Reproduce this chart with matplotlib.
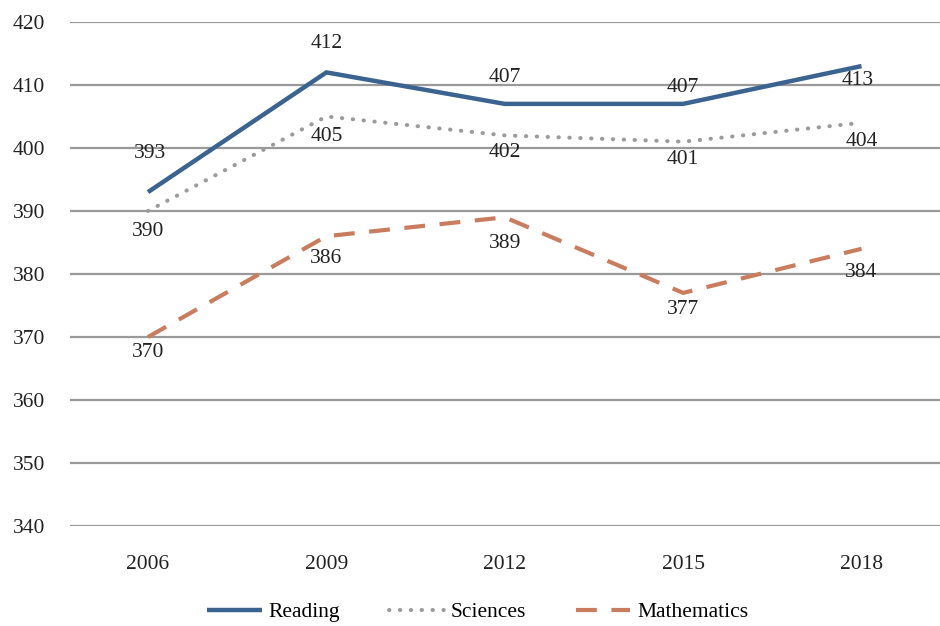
import matplotlib
matplotlib.use("Agg")
from matplotlib import pyplot as plt

years = ["2006", "2009", "2012", "2015", "2018"]
reading = [393, 412, 407, 407, 413]
sciences = [390, 405, 402, 401, 404]
mathematics = [370, 386, 389, 377, 384]

# label offsets in pixels (dx, dy) for each point
reading_offsets = [(2, 39), (0, 29), (0, 26), (0, 16), (-4, -14)]
sciences_offsets = [(0, -21), (0, -20), (0, -17), (0, -18), (0, -19)]
math_offsets = [(0, -15), (0, -22), (0, -26), (0, -17), (0, -24)]

plt.rcParams['font.family'] = ['Liberation Serif', 'DejaVu Serif']
fs = 15.5

fig = plt.figure(figsize=(9.4, 6.26), dpi=100)
ax = fig.add_axes([0.0745, 0.1597, 0.9255, 0.8052])

x = list(range(len(years)))
ax.plot(x, reading, '-', color='#3a6390', lw=3.2, label="Reading",
        solid_capstyle='butt', zorder=3)
ax.plot(x, sciences, color='#9b9b9d', lw=2.9, label="Sciences",
        linestyle=(0, (0.1, 2.6)), dash_capstyle='round', zorder=3)
ax.plot(x, mathematics, color='#c97d5e', lw=3.0, label="Mathematics",
        linestyle=(0, (5, 3.5)), dash_capstyle='butt', zorder=3)

for values, offsets in [(reading, reading_offsets),
                        (sciences, sciences_offsets),
                        (mathematics, math_offsets)]:
    for i, v in enumerate(values):
        ax.annotate(str(v), (i, v), xytext=offsets[i],
                    textcoords='offset pixels', ha='center', va='center',
                    fontsize=fs, color='#222222')

ax.set_xlim(-0.437, 4.44)
ax.set_ylim(340, 420)
ax.set_yticks(range(340, 421, 10))
ax.set_xticks(x)
ax.set_xticklabels(years)
ax.grid(axis='y', color='#999999', lw=1.6)
ax.set_axisbelow(True)
for side in ['top', 'right', 'left', 'bottom']:
    ax.spines[side].set_visible(False)
ax.tick_params(axis='both', length=0, labelsize=fs, colors='#222222')
ax.tick_params(axis='y', pad=18)
ax.tick_params(axis='x', pad=21)

fig.legend(loc='center', bbox_to_anchor=(0.508, 0.022), ncol=3,
           frameon=False, fontsize=fs, handlelength=2.55, handletextpad=0.3,
           columnspacing=2.3, borderpad=0.1)

fig.savefig("out.png", dpi=100)
